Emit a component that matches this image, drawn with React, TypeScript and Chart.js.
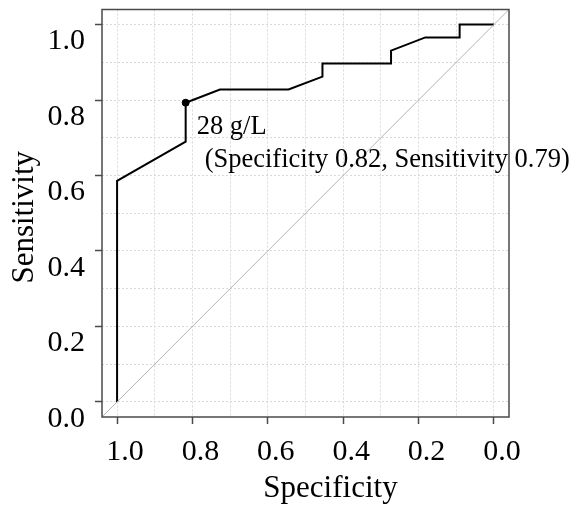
import React, { useEffect, useRef } from "react";
import { Chart, registerables } from "chart.js";

Chart.register(...registerables);

// ROC curve points (specificity, sensitivity)
const specificity = [1.0, 1.0, 0.818, 0.818, 0.727, 0.545, 0.455, 0.455, 0.273, 0.273, 0.182, 0.091, 0.091, 0.0];
const sensitivity = [0.0, 0.586, 0.69, 0.793, 0.828, 0.828, 0.862, 0.897, 0.897, 0.931, 0.966, 0.966, 1.0, 1.0];

// reference diagonal (chance line)
const diagonalSpec = [1.04, -0.04];
const diagonalSens = [-0.04, 1.04];

// best cut-off
const cutoffSpec = [0.818];
const cutoffSens = [0.793];
const annotationLines = ["28 g/L", "(Specificity 0.82, Sensitivity 0.79)"];

// axes
const gridValues = [0, 0.1, 0.2, 0.3, 0.4, 0.5, 0.6, 0.7, 0.8, 0.9, 1.0];
const majorTicks = [0, 0.2, 0.4, 0.6, 0.8, 1.0];
const tickLabels = ["0.0", "0.2", "0.4", "0.6", "0.8", "1.0"];
const xTitle = "Specificity";
const yTitle = "Sensitivity";

const FONT = "'Liberation Serif', 'Times New Roman', serif";
const FRAME = "#4a4a4a";

const majorIndex = (v: number) => majorTicks.findIndex((m) => Math.abs(m - v) < 1e-6);

const overlayPlugin = {
  id: "overlay",
  afterDatasetsDraw(chart: any) {
    const { ctx, chartArea, scales } = chart;
    ctx.save();
    // frame
    ctx.strokeStyle = FRAME;
    ctx.lineWidth = 1.5;
    ctx.strokeRect(chartArea.left, chartArea.top, chartArea.right - chartArea.left, chartArea.bottom - chartArea.top);

    ctx.fillStyle = "#000";
    // annotation
    const px = scales.x.getPixelForValue(cutoffSpec[0]);
    const py = scales.y.getPixelForValue(cutoffSens[0]);
    ctx.font = `26.5px ${FONT}`;
    ctx.textAlign = "left";
    ctx.textBaseline = "alphabetic";
    ctx.fillText(annotationLines[0], px + 11, py + 31);
    ctx.fillText(annotationLines[1], px + 19, py + 64);

    // axis titles
    ctx.font = `31px ${FONT}`;
    ctx.textAlign = "center";
    const cx = (chartArea.left + chartArea.right) / 2;
    ctx.fillText(xTitle, cx + 25, 497);
    const cy = (chartArea.top + chartArea.bottom) / 2;
    ctx.translate(33, cy + 4);
    ctx.rotate(-Math.PI / 2);
    ctx.fillText(yTitle, 0, 0);
    ctx.restore();
  },
};

const axisCommon = (labelOffset: number, padding: number) => ({
  type: "linear" as const,
  min: -0.04,
  max: 1.04,
  afterBuildTicks: (s: any) => {
    s.ticks = gridValues.map((v) => ({ value: v }));
  },
  ticks: {
    autoSkip: false,
    maxRotation: 0,
    minRotation: 0,
    color: "#000",
    font: { family: FONT, size: 30 },
    padding,
    labelOffset,
    callback: (v: number) => {
      const i = majorIndex(v);
      return i >= 0 ? tickLabels[i] : "";
    },
  },
  grid: {
    color: "#d9d9d9",
    lineWidth: 1,
    drawTicks: true,
    tickLength: 7,
    tickWidth: 1.5,
    tickBorderDash: [],
    tickColor: (c: any) => (c.tick && majorIndex(c.tick.value) >= 0 ? FRAME : "rgba(0,0,0,0)"),
  },
  border: { display: false, dash: [2, 2] },
});

export default function App() {
  const ref = useRef<HTMLCanvasElement>(null);
  useEffect(() => {
    if (!ref.current) return;
    const chart = new Chart(ref.current, {
      type: "scatter",
      data: {
        datasets: [
          {
            data: diagonalSpec.map((x, i) => ({ x, y: diagonalSens[i] })),
            showLine: true,
            borderColor: "#b5b5b5",
            borderWidth: 1,
            pointRadius: 0,
          },
          {
            data: specificity.map((x, i) => ({ x, y: sensitivity[i] })),
            showLine: true,
            borderColor: "#000",
            borderWidth: 2,
            pointRadius: 0,
            tension: 0,
          },
          {
            data: cutoffSpec.map((x, i) => ({ x, y: cutoffSens[i] })),
            showLine: false,
            backgroundColor: "#000",
            borderColor: "#000",
            pointRadius: 3.5,
          },
        ],
      },
      options: {
        responsive: false,
        animation: false,
        layout: { padding: { top: 9.5, right: 68, left: 0, bottom: 0 } },
        plugins: { legend: { display: false }, tooltip: { enabled: false } },
        scales: {
          x: {
            ...axisCommon(8, 10),
            reverse: true,
            afterFit: (s: any) => {
              s.height = 89;
              s.paddingLeft = 0;
              s.paddingRight = 0;
            },
          },
          y: {
            ...axisCommon(17, 10),
            afterFit: (s: any) => {
              s.width = 102;
              s.paddingTop = 0;
              s.paddingBottom = 0;
            },
          },
        },
      } as any,
      plugins: [overlayPlugin],
    });
    return () => chart.destroy();
  }, []);
  return (
    <div style={{ position: "fixed", left: 0, top: 0, width: 577, height: 506, background: "#fff" }}>
      <canvas ref={ref} width={577} height={506} style={{ display: "block" }} />
    </div>
  );
}
